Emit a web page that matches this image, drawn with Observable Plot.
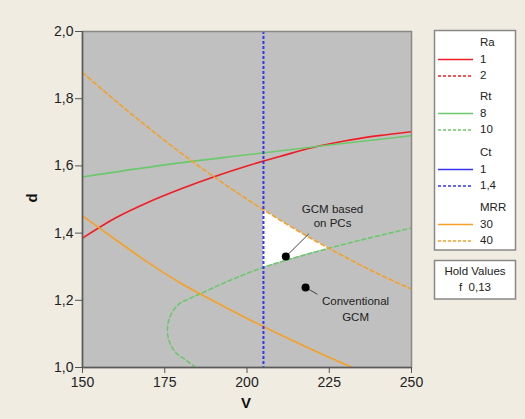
<!DOCTYPE html>
<html><head><meta charset="utf-8">
<script src="https://cdn.jsdelivr.net/npm/d3@7"></script>
<script src="https://cdn.jsdelivr.net/npm/@observablehq/plot@0.6"></script>
<style>
html,body{margin:0;padding:0;background:#f0ece2;}
#chart{position:relative;width:525px;height:419px;}
</style></head><body><div id="chart"></div>
<script>
// ---- Data ----
const xTicks = [150, 175, 200, 225, 250];
const yTicks = [1.0, 1.2, 1.4, 1.6, 1.8, 2.0];

// Ra = 1 (solid red)
const ra1V = [150, 160, 170, 180, 190, 200, 210, 220, 230, 240, 250];
const ra1D = [1.385, 1.445, 1.492, 1.532, 1.568, 1.600, 1.628, 1.655, 1.675, 1.690, 1.702];

// Rt = 8 (solid green)
const rt8V = [150, 175, 200, 225, 250];
const rt8D = [1.567, 1.603, 1.633, 1.662, 1.690];

// Rt = 10 (dashed green)
const rt10V = [184.4, 181.0, 178.8, 177.2, 176.3, 175.8, 176.2, 177.3, 179.5, 182.5, 185.9, 195, 205, 215, 225, 237, 250];
const rt10D = [1.000, 1.025, 1.040, 1.060, 1.080, 1.110, 1.140, 1.165, 1.190, 1.205, 1.220, 1.260, 1.298, 1.328, 1.355, 1.385, 1.415];

// Ct = 1,4 (dashed blue, vertical)
const ct14V = [205];

// MRR = 30 (solid orange)
const mrr30V = [150, 160, 170, 180, 190, 200, 210, 220, 232];
const mrr30D = [1.451, 1.381, 1.312, 1.250, 1.197, 1.146, 1.098, 1.052, 1.000];

// MRR = 40 (dashed orange)
const mrr40V = [150, 160, 170, 180, 190, 200, 210, 220, 230, 240, 250];
const mrr40D = [1.878, 1.794, 1.714, 1.638, 1.567, 1.501, 1.439, 1.381, 1.328, 1.278, 1.233];

// Feasible (white) region
const feasV = [205, 210, 215, 220, 225];
const feasLo = [1.298, 1.313, 1.328, 1.342, 1.355];
const feasHi = [1.470, 1.439, 1.409, 1.381, 1.355];

// Points
const ptNames = ["GCM based on PCs", "Conventional GCM"];
const ptV = [211.8, 217.8];
const ptD = [1.330, 1.238];

// Annotation labels
const annoText = ["GCM based", "on PCs", "Conventional", "GCM"];
const annoV = [226, 226, 233, 233];
const annoD = [1.472, 1.428, 1.198, 1.149];
const leaderV1 = [211.8, 217.8], leaderD1 = [1.330, 1.238];
const leaderV2 = [218.8, 221.4], leaderD2 = [1.398, 1.218];

// Legend
const legendGroups = ["Ra", "Rt", "Ct", "MRR"];
const legendLevels = [["1", "2"], ["8", "10"], ["1", "1,4"], ["30", "40"]];
const holdLabel = "Hold Values";
const holdText = "f  0,13";

// ---- Styles ----
const RED = "#f01c24", GREEN = "#6cc86c", BLUE = "#3636ee", ORANGE = "#f6a025";
const groupColors = [RED, GREEN, BLUE, ORANGE];
const pts = (vs, ds) => vs.map((v, i) => ({v, d: ds[i]}));
const fmt = d => d3.format(".1f")(d).replace(".", ",");

const chart = Plot.plot({
  width: 525, height: 419,
  marginLeft: 82, marginRight: 114, marginTop: 31, marginBottom: 52,
  style: {fontFamily: "Liberation Sans, Arial, sans-serif", fontSize: "14px", background: "transparent", color: "#222"},
  x: {domain: [150, 250]},
  y: {domain: [1, 2]},
  marks: [
    Plot.frame({fill: "#c0c0c0"}),
    Plot.areaY(pts(feasV, feasLo).map((p, i) => ({v: p.v, lo: p.d, hi: feasHi[i]})), {x: "v", y1: "lo", y2: "hi", fill: "white"}),
    Plot.line(pts(ra1V, ra1D), {x: "v", y: "d", stroke: RED, strokeWidth: 1.6, curve: "catmull-rom", clip: true}),
    Plot.line(pts(rt8V, rt8D), {x: "v", y: "d", stroke: GREEN, strokeWidth: 1.6, curve: "catmull-rom", clip: true}),
    Plot.line(pts(rt10V, rt10D), {x: "v", y: "d", stroke: GREEN, strokeWidth: 1.6, strokeDasharray: "4,3", curve: "catmull-rom", clip: true}),
    Plot.line(pts(mrr30V, mrr30D), {x: "v", y: "d", stroke: ORANGE, strokeWidth: 1.6, curve: "catmull-rom", clip: true}),
    Plot.line(pts(mrr40V, mrr40D), {x: "v", y: "d", stroke: ORANGE, strokeWidth: 1.6, strokeDasharray: "4,3", curve: "catmull-rom", clip: true}),
    Plot.ruleX(ct14V, {stroke: BLUE, strokeWidth: 2, strokeDasharray: "3,2"}),
    Plot.link(leaderV1.map((v, i) => ({x1: v, y1: leaderD1[i], x2: leaderV2[i], y2: leaderD2[i]})), {x1: "x1", y1: "y1", x2: "x2", y2: "y2", stroke: "#444", strokeWidth: 1}),
    Plot.dot(pts(ptV, ptD), {x: "v", y: "d", r: 4, fill: "black", stroke: "none", title: (d, i) => ptNames[i]}),
    Plot.text(annoText.map((t, i) => ({t, v: annoV[i], d: annoD[i]})), {x: "v", y: "d", text: "t", fontSize: 11.5, fill: "#222"}),
    Plot.frame({stroke: "#888", strokeWidth: 1.5}),
    Plot.ruleX([150], {stroke: "#5a5a5a", strokeWidth: 1.5}),
    Plot.ruleY([1], {stroke: "#5a5a5a", strokeWidth: 1.5}),
    Plot.axisX({ticks: xTicks, tickSize: 6, tickPadding: 4, stroke: "#555", label: null, fontSize: 14}),
    Plot.axisY({ticks: yTicks, tickFormat: fmt, tickSize: 7, tickPadding: 2, stroke: "#555", label: null, fontSize: 14})
  ]
});
document.getElementById("chart").append(chart);

// ---- Axis titles and legend ----
const svg = d3.select(chart);
const ff = "Liberation Sans, Arial, sans-serif";
svg.append("text").attr("x", 246).attr("y", 404).attr("text-anchor", "middle").attr("dominant-baseline", "middle")
  .attr("font-family", ff).attr("font-size", 15).attr("font-weight", "bold").attr("fill", "#111").text("V");
svg.append("text").attr("transform", "translate(33,198) rotate(-90)").attr("text-anchor", "middle").attr("dominant-baseline", "middle")
  .attr("font-family", ff).attr("font-size", 15).attr("font-weight", "bold").attr("fill", "#111").text("d");

const lg = svg.append("g").attr("font-family", ff).attr("font-size", 11.5).attr("fill", "#222").attr("text-anchor", "start");
lg.append("rect").attr("x", 434.5).attr("y", 30.5).attr("width", 81).attr("height", 219.5)
  .attr("fill", "white").attr("stroke", "#888").attr("stroke-width", 1.5);
const headY = [43, 97, 153, 208];
legendGroups.forEach((g, gi) => {
  const y0 = headY[gi];
  lg.append("text").attr("x", 480).attr("y", y0).attr("text-anchor", "start").attr("dominant-baseline", "middle").text(g);
  legendLevels[gi].forEach((lv, li) => {
    const y = y0 + 16.5 * (li + 1);
    lg.append("line").attr("x1", 438).attr("x2", 473).attr("y1", y).attr("y2", y)
      .attr("stroke", groupColors[gi]).attr("stroke-width", 1.6)
      .attr("stroke-dasharray", li === 1 ? "3,2" : null);
    lg.append("text").attr("x", 480).attr("y", y).attr("text-anchor", "start").attr("dominant-baseline", "middle").text(lv);
  });
});
lg.append("rect").attr("x", 434.5).attr("y", 260.5).attr("width", 81).attr("height", 38.5)
  .attr("fill", "white").attr("stroke", "#888").attr("stroke-width", 1.5);
lg.append("text").attr("x", 475).attr("y", 272).attr("text-anchor", "middle").attr("dominant-baseline", "middle").text(holdLabel);
lg.append("text").attr("x", 475).attr("y", 288).attr("text-anchor", "middle").attr("dominant-baseline", "middle").style("white-space", "pre").text(holdText);
</script>
</body></html>
